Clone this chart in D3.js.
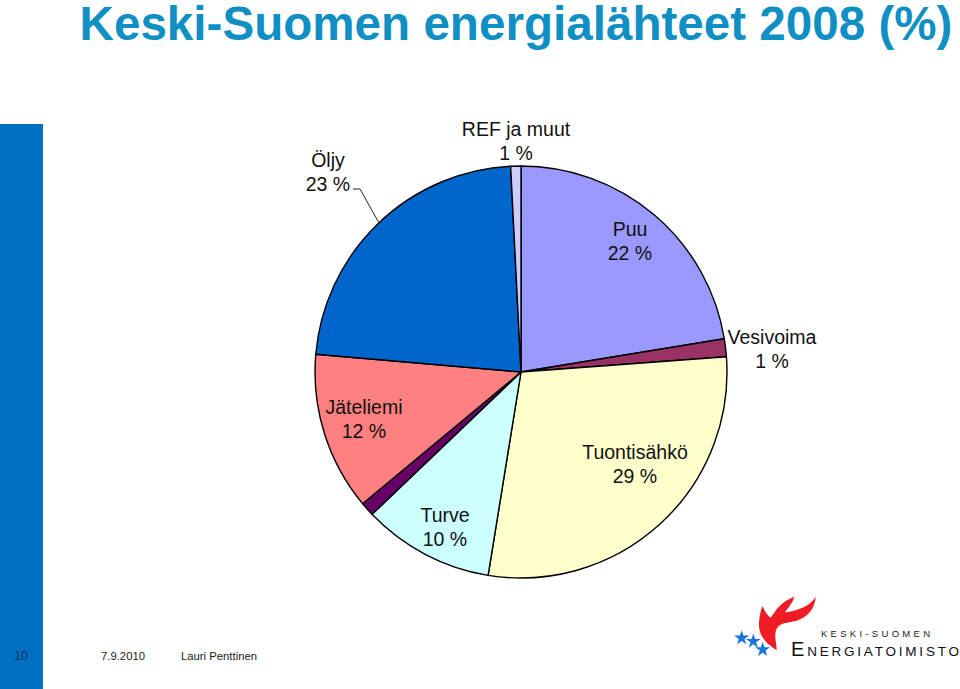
<!DOCTYPE html>
<html>
<head>
<meta charset="utf-8">
<script src="https://cdn.jsdelivr.net/npm/d3@7"></script>
<style>
  html, body { margin: 0; padding: 0; background: #fff; overflow: hidden; }
  svg { display: block; }
  text { font-family: "Liberation Sans", Arial, sans-serif; }
</style>
</head>
<body>
<svg width="960" height="689"></svg>
<script>
// clockwise from 12 o'clock
const categories = ["Puu", "Vesivoima", "Tuontisähkö", "Turve", "", "Jäteliemi", "Öljy", "REF ja muut"];
const shares = [22.4, 1.4, 28.7, 10.3, 1.1, 12.4, 22.8, 0.8];
const shareLabels = ["22 %", "1 %", "29 %", "10 %", "", "12 %", "23 %", "1 %"];

const svg = d3.select("svg");
const cx = 521, cy = 372, radius = 206;

const slices = categories.map((c, i) => ({ name: c, value: shares[i], label: shareLabels[i] }));
const sliceColors = d3.scaleOrdinal()
  .domain(categories)
  .range(["#9999ff", "#993366", "#ffffcc", "#ccffff", "#660066", "#ff8080", "#0066cc", "#ccccff"]);

// title
svg.append("text")
  .attr("x", 516)
  .attr("y", 40)
  .attr("text-anchor", "middle")
  .attr("font-size", 47.6)
  .attr("font-weight", "bold")
  .attr("fill", "#0f8fc4")
  .text("Keski-Suomen energialähteet 2008 (%)");

// side bar
svg.append("rect")
  .attr("x", 0).attr("y", 124)
  .attr("width", 43).attr("height", 565)
  .attr("fill", "#0070c0");

// pie
const pie = d3.pie().value(d => d.value).sort(null);
const arc = d3.arc().innerRadius(0).outerRadius(radius);

const g = svg.append("g").attr("transform", `translate(${cx},${cy})`);
g.selectAll("path")
  .data(pie(slices))
  .enter()
  .append("path")
  .attr("d", arc)
  .attr("fill", d => sliceColors(d.data.name))
  .attr("stroke", "#000")
  .attr("stroke-width", 1.4)
  .attr("stroke-linejoin", "round");

// leader for Öljy
svg.append("path")
  .attr("d", "M353,189 L360,189 L379,223")
  .attr("fill", "none")
  .attr("stroke", "#222")
  .attr("stroke-width", 1);

// label places, by category name
const labelPos = {
  "Puu": [630, 236],
  "Vesivoima": [772, 344],
  "Tuontisähkö": [635, 459],
  "Turve": [445, 522],
  "Jäteliemi": [364, 414],
  "Öljy": [328, 167],
  "REF ja muut": [516, 136]
};

const labels = svg.selectAll("text.lab")
  .data(slices.filter(d => d.name !== ""))
  .enter()
  .append("text")
  .attr("class", "lab")
  .attr("text-anchor", "middle")
  .attr("font-size", 19.5)
  .attr("fill", "#111");
labels.append("tspan")
  .attr("x", d => labelPos[d.name][0])
  .attr("y", d => labelPos[d.name][1])
  .text(d => d.name);
labels.append("tspan")
  .attr("x", d => labelPos[d.name][0])
  .attr("y", d => labelPos[d.name][1] + 23.5)
  .text(d => d.label);

// footer
svg.append("text").attr("x", 21).attr("y", 660)
  .attr("text-anchor", "middle").attr("font-size", 12).attr("fill", "#06305f").text("10");
svg.append("text").attr("x", 101).attr("y", 660)
  .attr("font-size", 11.3).attr("fill", "#222").text("7.9.2010");
svg.append("text").attr("x", 181).attr("y", 660)
  .attr("font-size", 11.3).attr("fill", "#222").text("Lauri Penttinen");

// logo
const logo = svg.append("g").attr("transform", "translate(700,580) scale(0.3333)");
logo.append("path")
  .attr("d", "M230,211 C200,190 175,170 177,130 C178,110 182,92 187,78 C195,95 205,110 212,113 C225,100 232,70 283,50 C277,72 262,85 255,97 C290,92 330,80 347,50 C345,85 325,110 290,122 C260,130 240,125 228,150 C222,170 230,190 230,211 Z")
  .attr("fill", "#ee1c25");
const star = d3.symbol().type(d3.symbolStar).size(620);
[[125, 174], [160, 184], [188, 209]].forEach(p => {
  logo.append("path")
    .attr("d", star())
    .attr("transform", `translate(${p[0]},${p[1]})`)
    .attr("fill", "#1a73e0");
});

svg.append("text").attr("x", 821).attr("y", 637)
  .attr("font-size", 9.5).attr("font-family", "DejaVu Sans")
  .attr("textLength", 109).attr("fill", "#222").text("KESKI-SUOMEN");
const brand = svg.append("text").attr("x", 791).attr("y", 656)
  .attr("font-family", "DejaVu Sans").attr("fill", "#111")
  .attr("textLength", 168);
brand.append("tspan").attr("font-size", 20).text("E");
brand.append("tspan").attr("font-size", 13.5).text("NERGIATOIMISTO");
</script>
</body>
</html>
